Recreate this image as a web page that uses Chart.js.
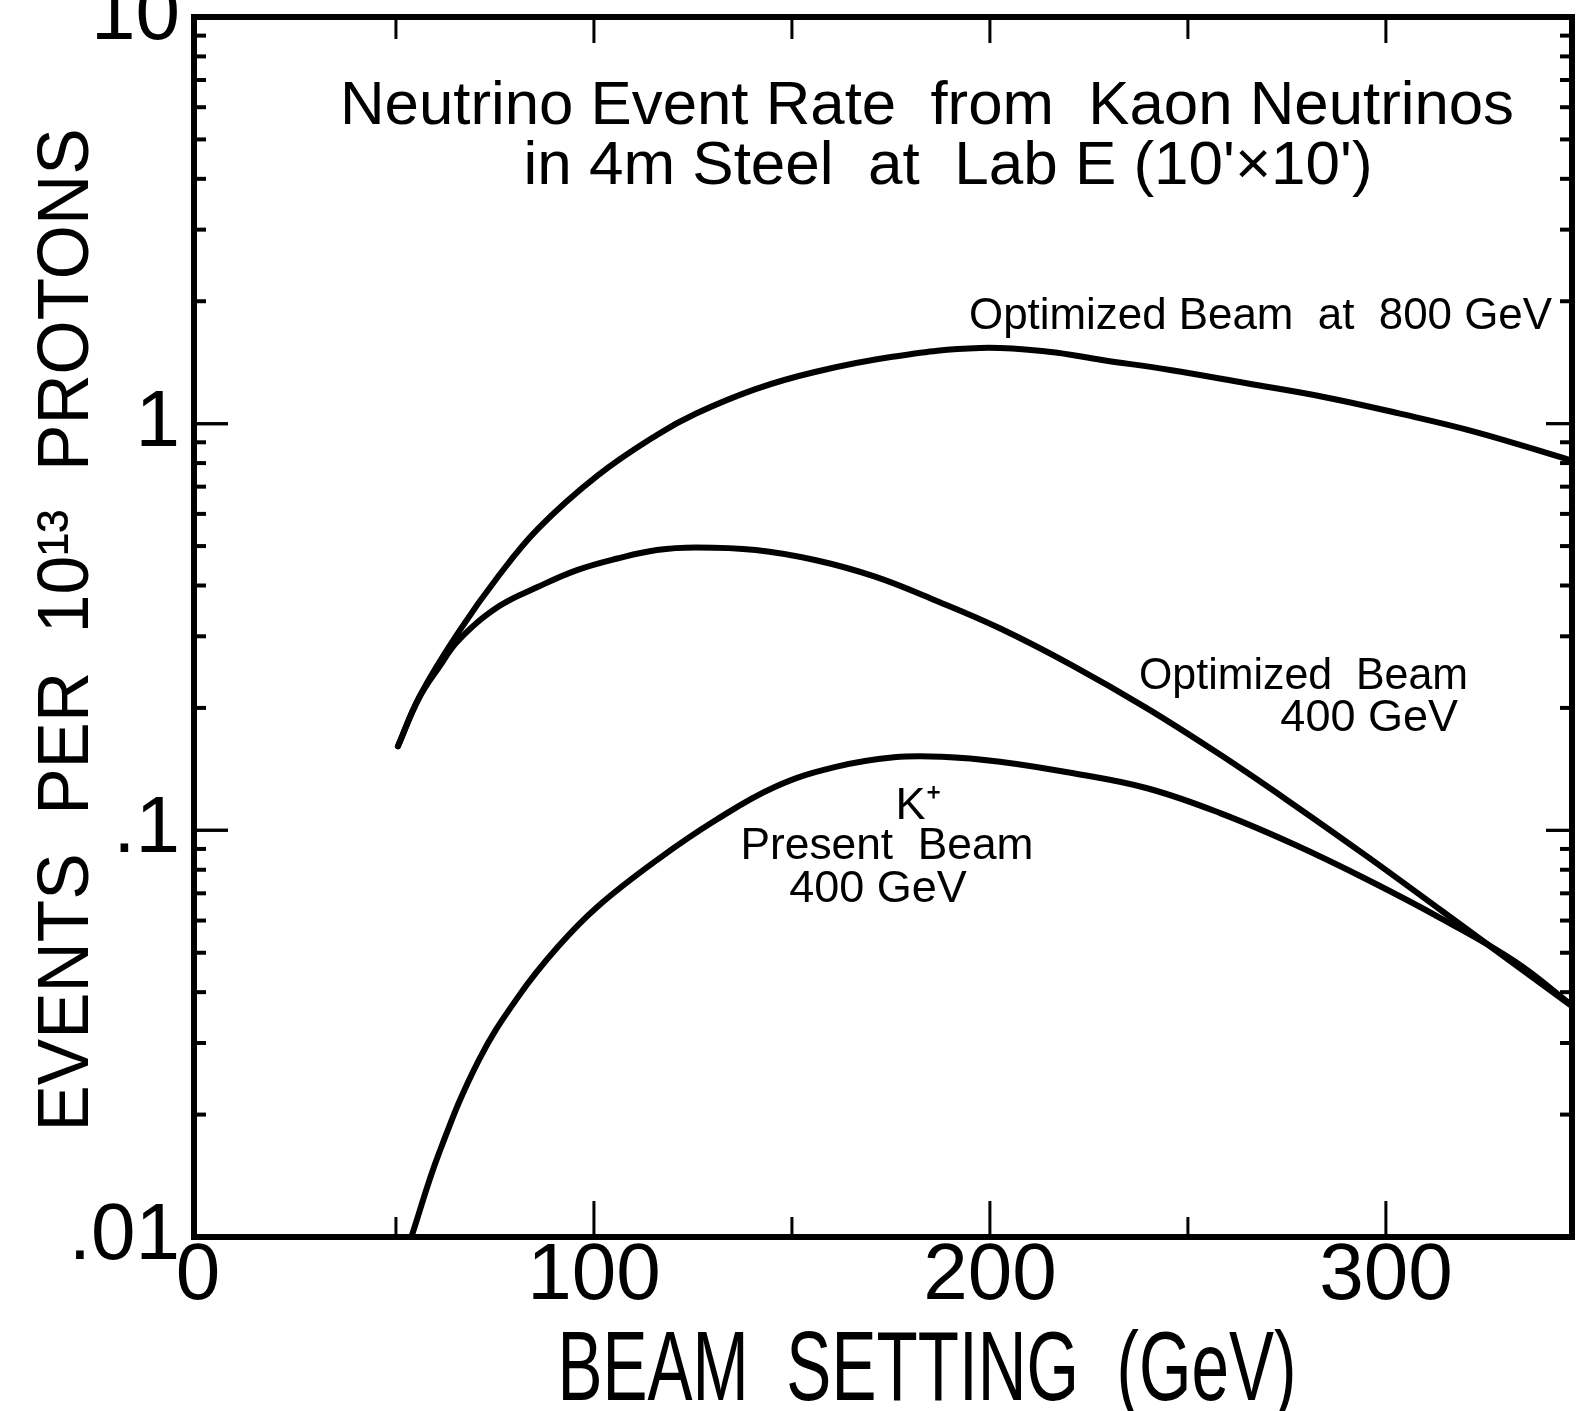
<!DOCTYPE html>
<html>
<head>
<meta charset="utf-8">
<script src="https://cdn.jsdelivr.net/npm/chart.js@4.4.1/dist/chart.umd.min.js"></script>
<style>
  html, body { margin: 0; padding: 0; background: #fff; }
  #wrap { width: 1577px; height: 1411px; }
</style>
</head>
<body>
<div id="wrap"><canvas id="chart" width="1577" height="1411"></canvas></div>
<script>
// values: beam setting (GeV) vs events per 1e13 protons
const opt800X = [50.5, 55.9, 65.9, 75.9, 85.9, 100.9, 115.9, 125.8, 140.8, 155.8, 175.8, 197.5, 214.8, 228.3, 245.5, 264.8, 284.0, 303.3, 322.5, 346.5];
const opt800Y = [0.161, 0.213, 0.308, 0.422, 0.552, 0.745, 0.938, 1.059, 1.216, 1.340, 1.462, 1.535, 1.503, 1.434, 1.355, 1.257, 1.165, 1.060, 0.955, 0.814];

const opt400X = [50.5, 55.9, 60.9, 65.9, 75.9, 85.9, 95.9, 105.9, 115.9, 125.8, 140.8, 155.8, 170.8, 185.8, 202.5, 221.1, 239.7, 258.3, 276.9, 295.5, 314.0, 323.3, 346.6];
const opt400Y = [0.161, 0.212, 0.252, 0.294, 0.355, 0.397, 0.437, 0.466, 0.489, 0.496, 0.489, 0.462, 0.421, 0.369, 0.314, 0.2535, 0.1995, 0.1531, 0.1153, 0.0859, 0.0635, 0.0545, 0.0372];

const presentX = [53.9, 60.9, 70.9, 80.9, 90.9, 100.9, 115.9, 130.8, 145.8, 160.8, 175.8, 187.8, 202.5, 221.1, 239.7, 258.3, 276.9, 295.5, 314.0, 332.6, 346.6];
const presentY = [0.0100, 0.0161, 0.0272, 0.0390, 0.0517, 0.0649, 0.0845, 0.1060, 0.1280, 0.1430, 0.1512, 0.1517, 0.1475, 0.1381, 0.1269, 0.1101, 0.0923, 0.0755, 0.0607, 0.0476, 0.0374];

const xTickValues = [0, 100, 200, 300];
const yTickValues = [0.01, 0.1, 1, 10];
const yTickLabels = ['.01', '.1', '1', '10'];

const FONT = "'Liberation Sans', Arial, sans-serif";

const toPoints = (xs, ys) => xs.map((x, i) => ({ x: x, y: ys[i] }));

// text on the plot (pixel layout of the original figure)
const notes = [
  { text: 'Neutrino Event Rate  from  Kaon Neutrinos', x: 927, y: 124, size: 62, align: 'center', width: 1174 },
  { text: "in 4m Steel  at  Lab E (10'\u00d710')", x: 948, y: 184, size: 62, align: 'center', width: 900 },
  { text: 'Optimized Beam  at  800 GeV', x: 1552, y: 329, size: 45, align: 'right', width: 583 },
  { text: 'Optimized  Beam', x: 1468, y: 689, size: 45, align: 'right', width: 329 },
  { text: '400 GeV', x: 1458, y: 731, size: 45, align: 'right', width: 186 },
  { text: 'K\u207a', x: 918, y: 819, size: 45, align: 'center', width: 55 },
  { text: 'Present  Beam', x: 887, y: 859, size: 45, align: 'center', width: 293 },
  { text: '400 GeV', x: 878, y: 902, size: 45, align: 'center', width: 192 },
  { text: 'BEAM  SETTING  (GeV)', x: 927, y: 1400, size: 98, align: 'center', width: 739 }
];

const framePlugin = {
  id: 'frame',
  afterDatasetsDraw(chart) {
    const ctx = chart.ctx;
    const ca = chart.chartArea;
    const xs = chart.scales.x;
    const ys = chart.scales.y;
    const line = (x1, y1, x2, y2) => { ctx.beginPath(); ctx.moveTo(x1, y1); ctx.lineTo(x2, y2); ctx.stroke(); };

    ctx.save();
    ctx.strokeStyle = '#000';
    ctx.lineCap = 'butt';

    // tick marks, pointing inward on all four sides
    ctx.lineWidth = 3;
    for (let v = 50; v <= 345; v += 50) {
      const px = xs.getPixelForValue(v);
      const major = v % 100 === 0;
      line(px, ca.bottom, px, ca.bottom - (major ? 36 : 20));
      line(px, ca.top, px, ca.top + (major ? 26 : 22));
    }
    for (let d = -2; d <= 0; d++) {
      for (let m = 1; m <= 10; m++) {
        const py = ys.getPixelForValue(m * Math.pow(10, d));
        const major = (m === 1 || m === 10);
        ctx.lineWidth = major ? 3 : 4;
        line(ca.left, py, ca.left + (major ? 34 : 12), py);
        line(ca.right, py, ca.right - (major ? 26 : 12), py);
      }
    }

    // frame
    ctx.lineWidth = 6;
    ctx.strokeRect(ca.left, ca.top, ca.right - ca.left, ca.bottom - ca.top);

    // labels and titles
    ctx.fillStyle = '#000';
    ctx.textBaseline = 'alphabetic';
    notes.forEach(n => {
      ctx.font = n.size + 'px ' + FONT;
      ctx.textAlign = n.align;
      ctx.fillText(n.text, n.x, n.y, n.width);
    });

    // y axis title, rotated
    ctx.translate(88, 630);
    ctx.rotate(-Math.PI / 2);
    ctx.font = '73px ' + FONT;
    ctx.textAlign = 'center';
    ctx.fillText('EVENTS  PER  10\u00b9\u00b3  PROTONS', 0, 0, 1003);
    ctx.restore();
  }
};

const chart = new Chart(document.getElementById('chart'), {
  type: 'line',
  data: {
    datasets: [
      { label: 'Optimized Beam at 800 GeV', data: toPoints(opt800X, opt800Y) },
      { label: 'Optimized Beam 400 GeV', data: toPoints(opt400X, opt400Y) },
      { label: 'K+ Present Beam 400 GeV', data: toPoints(presentX, presentY) }
    ]
  },
  options: {
    responsive: false,
    animation: false,
    layout: { padding: { top: 17, right: 5, left: 0, bottom: 0 } },
    plugins: { legend: { display: false }, tooltip: { enabled: false } },
    elements: {
      point: { radius: 0 },
      line: { borderColor: '#000', borderWidth: 6, tension: 0.4, borderCapStyle: 'round', borderJoinStyle: 'round', fill: false }
    },
    scales: {
      x: {
        type: 'linear',
        min: -1,
        max: 347,
        afterBuildTicks: s => { s.ticks = xTickValues.map(v => ({ value: v })); },
        afterFit: s => { s.height = 174; s.paddingLeft = 0; s.paddingRight = 0; },
        grid: { display: false, drawTicks: false },
        border: { display: false },
        ticks: {
          autoSkip: false,
          maxRotation: 0,
          padding: 0,
          color: '#000',
          font: { family: FONT, size: 80, lineHeight: 1 },
          callback: v => String(v)
        }
      },
      y: {
        type: 'logarithmic',
        min: 0.01,
        max: 10,
        afterBuildTicks: s => { s.ticks = yTickValues.map(v => ({ value: v })); },
        afterFit: s => { s.width = 194; s.paddingTop = 0; s.paddingBottom = 0; },
        grid: { display: false, drawTicks: false },
        border: { display: false },
        ticks: {
          autoSkip: false,
          padding: 14,
          color: '#000',
          font: { family: FONT, size: 80, lineHeight: 1 },
          callback: v => yTickLabels[yTickValues.indexOf(v)]
        }
      }
    }
  },
  plugins: [framePlugin]
});
</script>
</body>
</html>
